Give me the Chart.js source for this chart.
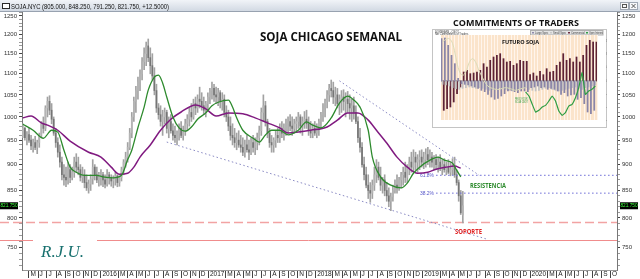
<!DOCTYPE html>
<html>
<head>
<meta charset="utf-8">
<script src="https://cdn.jsdelivr.net/npm/chart.js@4.4.1/dist/chart.umd.min.js"></script>
<style>
html,body{margin:0;padding:0;background:#fff;}
#wrap{position:relative;width:640px;height:279px;overflow:hidden;}
#main{position:absolute;left:0;top:0;}
#cot{position:absolute;left:432px;top:29px;}
</style>
</head>
<body>
<div id="wrap">
  <canvas id="main" width="640" height="279"></canvas>
  <canvas id="cot" width="175" height="99"></canvas>
</div>
<script>
// Weekly bars, week 0 = 10 Apr 2015
const OPEN = [
  960,975,955,962,950,938,945,935,945,960, 985,975,1020,1035,1015,995,965,945,925,905,
  880,875,870,890,875,885,905,895,890,875, 880,865,855,862,872,895,880,870,875,880,
  870,862,880,875,868,872,878,865,875,890, 905,915,935,965,1000,1035,1060,1080,1100,1130,
  1150,1170,1140,1120,1095,1060,1020,1005,990,1000, 1010,975,990,970,960,955,965,975,960,970,
  985,995,1010,1000,1030,1020,1040,1035,1025,1015, 1030,1045,1060,1065,1050,1045,1055,1035,1040,1010,
  1000,980,960,955,945,950,940,935,925,940, 930,925,945,935,945,955,970,1010,1025,990,
  965,945,940,950,960,955,975,965,975,985, 990,980,975,985,990,1000,980,990,995,985,
  970,965,975,965,980,990,1005,1020,1035,1050, 1065,1060,1045,1050,1030,1040,1045,1035,1040,1030,
  1020,1025,1010,990,955,935,900,880,860,850, 845,860,880,895,875,860,870,850,840,830,
  838,850,860,855,870,880,885,875,895,905, 895,915,905,910,915,905,910,920,910,915,
  905,910,900,905,895,900,890,895,885,890, 895,880,865,840,805
];
const HIGH = [
  985,978,968,975,960,952,958,950,965,990, 1000,1025,1045,1048,1030,1000,975,955,940,915,
  900,895,905,900,895,915,922,915,900,895, 890,880,870,880,910,900,895,885,890,885,
  880,890,885,880,878,885,880,878,895,910, 925,945,975,1010,1045,1070,1092,1110,1140,1165,
  1180,1188,1165,1150,1115,1075,1030,1025,1015,1020, 1015,1000,1005,985,980,970,985,990,980,995,
  1005,1020,1030,1040,1045,1050,1068,1055,1045,1035, 1055,1065,1080,1075,1068,1065,1060,1055,1050,1025,
  1015,1000,985,975,965,970,960,955,950,960, 950,955,960,955,965,980,1020,1050,1035,995,
  975,960,955,970,975,985,990,985,995,1000, 1005,1000,995,1000,1010,1005,1000,1012,1015,1000,
  990,985,990,985,995,1010,1030,1040,1060,1075, 1085,1080,1068,1065,1050,1060,1062,1055,1058,1050,
  1040,1045,1025,1000,975,945,915,895,880,865, 870,895,910,905,895,875,880,865,855,845,
  860,870,880,875,885,895,905,900,915,925, 930,925,920,928,930,925,932,935,930,925,
  918,920,915,920,910,912,905,910,905,912, 915,890,870,850,848.25
];
const LOW = [
  955,950,940,945,930,925,930,922,935,955, 965,970,1000,1005,985,960,935,915,895,870,
  860,857,862,865,870,875,885,880,868,865, 855,850,845,850,862,870,865,858,860,857,
  855,858,862,858,855,860,857,858,868,880, 895,905,930,955,990,1010,1040,1060,1085,1110,
  1120,1130,1100,1085,1050,1010,995,980,960,985, 965,955,965,950,945,940,950,955,950,960,
  970,980,990,995,1005,1010,1020,1015,1005,1000, 1015,1030,1040,1035,1030,1025,1020,1015,1000,990,
  970,950,940,935,930,935,925,918,915,925, 910,920,925,920,930,940,960,990,980,955,
  935,925,925,935,945,945,955,950,960,965, 970,960,965,970,975,965,960,975,975,960,
  955,955,960,955,960,975,990,1000,1020,1035, 1045,1030,1025,1020,1005,1010,1015,1000,1010,995,
  990,995,985,945,925,895,870,855,835,828, 835,850,865,870,850,845,840,830,820,813,
  830,845,845,850,855,860,865,865,880,885, 885,890,885,890,895,892,895,900,895,895,
  890,890,885,888,880,885,880,882,878,880, 875,860,830,806,791.25
];
const CLOSE = [
  975,955,962,950,938,945,935,945,960,985, 975,1020,1035,1015,995,965,945,925,905,880,
  875,870,890,875,885,905,895,890,875,880, 865,855,862,872,895,880,870,875,880,870,
  862,880,875,868,872,878,865,875,890,905, 915,935,965,1000,1035,1060,1080,1100,1130,1150,
  1170,1140,1120,1095,1060,1020,1005,990,1000,1010, 975,990,970,960,955,965,975,960,970,985,
  995,1010,1000,1030,1020,1040,1035,1025,1015,1030, 1045,1060,1065,1050,1045,1055,1035,1040,1010,1000,
  980,960,955,945,950,940,935,925,940,930, 925,945,935,945,955,970,1010,1025,990,965,
  945,940,950,960,955,975,965,975,985,990, 980,975,985,990,1000,980,990,995,985,970,
  965,975,965,980,990,1005,1020,1035,1050,1065, 1060,1045,1050,1030,1040,1045,1035,1040,1030,1020,
  1025,1010,990,955,935,900,880,860,850,845, 860,880,895,875,860,870,850,840,830,838,
  850,860,855,870,880,885,875,895,905,895, 915,905,910,915,905,910,920,910,915,905,
  910,900,905,895,900,890,895,885,890,895, 880,865,840,809,821.75
];

// Moving averages (week index, price)
const GREEN_WEEKS  = [0,5,10,14,17,20,23,26,30,36,39,44,48,51,53,56,59,61,64,66,68,70,73,76,79,82,85,89,92,95,100,102,104,107,112,115,118,121,125,129,134,138,141,145,150,154,158,161,164,168,170,174,179,184,187,190,193,198,202,205,209,211,213];
const GREEN_VALUES = [984,971,954,971,967,929,895,885,879,879,876,874,879,910,929,977,1022,1061,1092,1097,1078,1045,1000,976,969,978,995,1009,1025,1033,1038,1022,998,971,954,946,961,971,971,961,971,989,982,976,998,1031,1047,1038,1022,971,915,876,860,855,864,883,895,909,915,909,903,889,876];
const PURPLE_WEEKS  = [0,4,9,12,17,23,32,38,43,47,51,54,57,62,67,72,77,84,89,94,100,107,113,119,125,129,134,140,148,153,158,163,168,172,177,182,187,192,197,201,206,210,213];
const PURPLE_VALUES = [998,1002,987,982,971,948,925,915,895,881,883,895,915,940,971,995,1011,1027,1018,1002,1009,1007,998,987,976,965,967,971,978,993,1009,1009,993,971,944,915,895,883,885,891,895,897,893];

// Trend lines, retracements, supports
const TREND_UPPER_WEEKS = [154,222], TREND_UPPER_VALUES = [1083,879];
const TREND_LOWER_WEEKS = [70,226],  TREND_LOWER_VALUES = [946,763];
const FIB_WEEKS = [201,289];
const FIB_618 = 879, FIB_382 = 845;
const SUPPORT_DASHED = 792, SUPPORT_SOLID = 762;
const LAST_CLOSE = 821.75;
const TITLE = 'SOJA.NYC (805.000, 848.250, 791.250, 821.750, +12.5000)';

// Axes
const PRICE_TICKS = [750,800,850,900,950,1000,1050,1100,1150,1200,1250];
const MONTH_LETTERS = ['J','F','M','A','M','J','J','A','S','O','N','D'];
const YEARS = [2015,2016,2017,2018,2019,2020];
const Y_MIN = 713, Y_MAX = 1261;
const X_MIN = -0.4, X_MAX = 289;

// COT inset
const COT_DATES = ['04/03','04/10','04/17','04/24','05/01','05/08','05/15','05/22','05/29','06/05','06/12','06/19','06/26','07/03','07/10','07/17','07/24','07/31','08/07','08/14','08/21','08/28','09/04','09/11','09/18','09/25','10/02','10/09','10/16','10/23','10/30','11/06','11/13','11/20','11/27','12/04','12/11','12/18','12/25','01/01','01/08','01/15','01/22','01/29','02/05','02/12','02/19'];
const COT_COMMERCIAL = [-88,-83,-78,-63,-38,-18,27,32,22,24,27,32,52,42,62,72,77,82,67,57,59,47,52,62,59,59,19,24,15,29,19,37,27,29,47,57,82,62,67,57,72,57,77,107,122,117,117];
const COT_LARGE = [127,129,107,77,52,8,-8,-10,-12,-15,-18,-22,-28,-32,-40,-48,-55,-52,-45,-38,-30,-28,-32,-35,-30,-30,-32,-20,-18,-15,-20,-18,-25,-22,-25,-30,-40,-35,-45,-42,-40,-55,-50,-68,-93,-98,-88];
const COT_SMALL = [-10,-12,-15,-20,-23,-25,-22,-20,-18,-20,-22,-20,-22,-25,-28,-25,-22,-20,-22,-25,-28,-30,-28,-25,-22,-20,-25,-28,-30,-28,-25,-22,-20,-25,-28,-30,-28,-25,-22,-20,-18,-22,-25,-20,-18,-15,-12];
const COT_PALE = [117,125,127,112,70,30,17,28,55,67,55,30,10,-8,-18,-22,-25,-25,-22,-20,-22,-25,-28,-25,-22,-20,null,null,null,null,null,null,null,null,null,null,null,null,null,null,null,null,null,null,null,null,null];
const COT_GREEN = [null,null,null,null,null,null,null,null,null,null,null,null,null,null,null,null,null,null,null,null,null,null,null,null,null,-33,-45,-70,-93,-88,-78,-73,-60,-45,-60,-90,-103,-95,-75,-70,-50,-20,25,-40,-30,-25,-15];

// month ticks on the week axis (February is hidden behind the year label)
const START = Date.UTC(2015,3,10), WEEK_MS = 7*864e5;
const monthTicks = [];
YEARS.forEach(y => MONTH_LETTERS.forEach((m, k) => {
  if (k === 1) return;
  const v = (Date.UTC(y,k,1) - START) / WEEK_MS;
  if (v > X_MIN && v < X_MAX) monthTicks.push({value:v, label: k === 0 ? String(y) : m});
}));
const labelAt = v => { const t = monthTicks.find(t => Math.abs(t.value - v) < 1e-6); return t ? t.label : ''; };

const minorTicks = [];
for (let v = 720; v <= 1260; v += 10) minorTicks.push({value:v});

const wicks = OPEN.map((o,i) => ({x:i, y:[LOW[i], HIGH[i]]}));
const bodies = OPEN.map((o,i) => ({x:i, y:[Math.min(o,CLOSE[i]), Math.max(o,CLOSE[i])]}));
const bodyColors = OPEN.map((o,i) => CLOSE[i] >= o ? '#b4b4b4' : '#757575');
const pts = (w, v) => w.map((x,i) => ({x, y:v[i]}));

const dotted = (w, v, color) => ({type:'line', data:pts(w,v), borderColor:color, borderWidth:1,
  borderDash:[1.5,2.5], pointRadius:0, tension:0, order:0});

const yAxis = (pos, width) => ({
  type:'logarithmic', position:pos, min:Y_MIN, max:Y_MAX,
  afterBuildTicks: s => { s.ticks = minorTicks.map(t => ({value:t.value})); },
  afterFit: s => { s.width = width; },
  ticks:{autoSkip:false, padding:2, color:'#333', font:{size:6, family:'Liberation Sans'},
    callback: v => PRICE_TICKS.includes(v) ? String(v) : ''},
  grid:{drawOnChartArea:false, tickLength:3,
    tickColor: c => (c.tick && c.tick.value % 50 === 0) ? '#444' : '#9a9a9a'},
  border:{color:'#777'}
});

const decor = {
  id:'decor',
  beforeDraw(chart){
    const c = chart.ctx, W = chart.width; c.save();
    c.fillStyle = '#fff'; c.fillRect(0,0,W,chart.height);
    const g = c.createLinearGradient(0,0,0,11);
    g.addColorStop(0,'#f1f4f8'); g.addColorStop(1,'#d2d9e3');
    c.fillStyle = g; c.fillRect(0,0,W,11);
    c.strokeStyle = '#98a2b0'; c.lineWidth = 1;
    c.beginPath(); c.moveTo(0,11.5); c.lineTo(W,11.5); c.stroke();
    c.fillStyle = '#fff'; c.fillRect(2.5,3.5,7,5);
    c.strokeStyle = '#2a2a2a'; c.strokeRect(2.5,3.5,7,5);
    c.fillStyle = '#111'; c.font = '7px "Liberation Sans"'; c.textBaseline = 'alphabetic';
    c.fillText(TITLE, 11, 9, 158);
    [620,629].forEach((x,k) => {
      c.fillStyle = '#f7f8fa'; c.fillRect(x+0.5,2.5,8,7);
      c.strokeStyle = '#a0a8b4'; c.strokeRect(x+0.5,2.5,8,7);
      c.strokeStyle = '#555';
      if (k === 0) c.strokeRect(x+2.5,4.5,4,3);
      else { c.beginPath(); c.moveTo(x+2.5,4); c.lineTo(x+6.5,8); c.moveTo(x+6.5,4); c.lineTo(x+2.5,8); c.stroke(); }
    });
    c.restore();
  },
  beforeDatasetsDraw(chart){
    const c = chart.ctx, ys = chart.scales.y, R = chart.chartArea.right; c.save();
    let y = Math.round(ys.getPixelForValue(SUPPORT_DASHED)) + 0.5;
    c.strokeStyle = '#f2a3a3'; c.lineWidth = 1.6; c.setLineDash([9,4]);
    c.beginPath(); c.moveTo(0,y); c.lineTo(R,y); c.stroke();
    y = Math.round(ys.getPixelForValue(SUPPORT_SOLID)) + 0.5;
    c.setLineDash([]); c.strokeStyle = '#f08c8c'; c.lineWidth = 1;
    c.beginPath(); c.moveTo(0,y); c.lineTo(R,y); c.stroke();
    c.fillStyle = '#5555c8'; c.font = '5.5px "Liberation Sans"'; c.textBaseline = 'middle';
    c.fillText('61.8%', 420, ys.getPixelForValue(FIB_618), 14);
    c.fillText('38.2%', 420, ys.getPixelForValue(FIB_382), 14);
    c.restore();
  },
  afterDatasetsDraw(chart){
    const c = chart.ctx, ys = chart.scales.y; c.save();
    c.fillStyle = '#fff'; c.fillRect(33,236,64,27);
    c.fillStyle = '#17706e'; c.font = 'italic 17px "Liberation Serif"'; c.textBaseline = 'alphabetic';
    c.fillText('R.J.U.', 41, 257, 49);
    c.fillStyle = '#111'; c.font = 'bold 12.5px "Open Sans"';
    c.fillText('SOJA CHICAGO SEMANAL', 260, 40.5, 142);
    c.font = 'bold 9.5px "Open Sans"';
    c.fillText('COMMITMENTS OF TRADERS', 453, 26, 126);
    c.font = 'bold 6.5px "Open Sans"';
    c.fillStyle = '#2e8b2e'; c.fillText('RESISTENCIA', 470, 187.5, 36);
    c.fillStyle = '#e02424'; c.fillText('SOPORTE', 455, 233.5, 27);
    const yc = ys.getPixelForValue(LAST_CLOSE);
    c.font = '5.5px "Liberation Sans"'; c.textBaseline = 'middle'; c.textAlign = 'center';
    [[0,18],[620,18]].forEach(([x,w]) => {
      c.fillStyle = '#000'; c.fillRect(x, yc-3.5, w, 7);
      c.fillStyle = '#3cff3c'; c.fillText('821.750', x + w/2, yc, w-1);
    });
    c.restore();
  }
};

new Chart(document.getElementById('main'), {
  type:'bar',
  data:{datasets:[
    {type:'line', data:pts(GREEN_WEEKS, GREEN_VALUES), borderColor:'#2d8a2d', borderWidth:1.3,
      pointRadius:0, cubicInterpolationMode:'monotone', order:0},
    {type:'line', data:pts(PURPLE_WEEKS, PURPLE_VALUES), borderColor:'#801a80', borderWidth:1.5,
      pointRadius:0, cubicInterpolationMode:'monotone', order:0},
    dotted(TREND_UPPER_WEEKS, TREND_UPPER_VALUES, '#8a8ac4'),
    dotted(TREND_LOWER_WEEKS, TREND_LOWER_VALUES, '#8a8ac4'),
    dotted(FIB_WEEKS, [FIB_618, FIB_618], '#6b6bd6'),
    dotted(FIB_WEEKS, [FIB_382, FIB_382], '#6b6bd6'),
    {data:bodies, backgroundColor:bodyColors, barThickness:1, grouped:false, order:1},
    {data:wicks, backgroundColor:'#a2a2a2', barThickness:1, grouped:false, order:2}
  ]},
  options:{
    responsive:false, animation:false, devicePixelRatio:1,
    layout:{padding:{top:12, left:0, right:0, bottom:0}},
    plugins:{legend:{display:false}, tooltip:{enabled:false}},
    scales:{
      x:{type:'linear', min:X_MIN, max:X_MAX, offset:false,
        afterBuildTicks: s => { s.ticks = monthTicks.map(t => ({value:t.value})); },
        afterFit: s => { s.height = 9; },
        ticks:{autoSkip:false, maxRotation:0, minRotation:0, align:'start', padding:-8, labelOffset:1.5,
          color:'#222', font:{size:6.5, family:'Liberation Sans'}, callback: v => labelAt(v)},
        grid:{drawOnChartArea:false, offset:false, tickLength:8, tickColor:'#444'},
        border:{color:'#999'}},
      y: yAxis('left', 22),
      y2: yAxis('right', 23)
    }
  },
  plugins:[decor]
});

// inset: commitments of traders
const cotDecor = {
  id:'cotDecor',
  beforeDraw(chart){
    const c = chart.ctx; c.save();
    c.fillStyle = '#fff'; c.fillRect(0,0,chart.width,chart.height);
    c.strokeStyle = '#c4c4c4'; c.strokeRect(0.5,0.5,chart.width-1,chart.height-1);
    c.fillStyle = '#333'; c.font = '2.6px "Liberation Sans"'; c.textBaseline = 'alphabetic';
    c.fillText('SOYBEANS - CBOT', 3, 3.5);
    c.fillText('Net Commitments of Traders', 3, 6);
    c.fillStyle = '#e4e4e4'; c.fillRect(98,1.5,73,4.5);
    c.strokeStyle = '#b0b0b0'; c.strokeRect(98.5,1.5,72.5,4.5);
    ['Large Spec','Small Spec','Commercial','Open Interest'].forEach((t,k) => {
      const x = 100 + k*18;
      c.fillStyle = ['#8f8aab','#c9c9c9','#6d2b3d','#2f9e44'][k]; c.fillRect(x,3,2,1.5);
      c.fillStyle = '#444'; c.fillText(t, x+3, 4.6, 14);
    });
    c.restore();
  },
  beforeDatasetsDraw(chart){
    const c = chart.ctx, a = chart.chartArea, xs = chart.scales.x; c.save();
    c.fillStyle = '#fbe4cb'; c.fillRect(a.left, a.top, a.right-a.left, a.bottom-a.top);
    c.strokeStyle = '#fff5ec'; c.lineWidth = 1;
    COT_DATES.forEach((d,i) => {
      const x = Math.round(xs.getPixelForValue(i) + (xs.getPixelForValue(1) - xs.getPixelForValue(0)) / 2) + 0.5;
      c.beginPath(); c.moveTo(x, a.top); c.lineTo(x, a.bottom); c.stroke();
    });
    const y0 = chart.scales.y.getPixelForValue(0);
    c.strokeStyle = '#8a8a8a'; c.beginPath(); c.moveTo(a.left,y0); c.lineTo(a.right,y0); c.stroke();
    c.restore();
  },
  afterDatasetsDraw(chart){
    const c = chart.ctx; c.save();
    c.fillStyle = '#111'; c.font = 'bold 5.5px "Open Sans"'; c.textBaseline = 'alphabetic';
    c.fillText('FUTURO SOJA', 70, 15, 40);
    c.fillStyle = '#2f9e44'; c.font = '2.6px "Liberation Sans"';
    c.fillText('PRECIO FUTURO', 83, 71, 13);
    c.fillText('SOJA CBOT', 83, 74, 13);
    c.restore();
  }
};

const cotAxis = (pos, width) => ({
  position:pos, min:-117, max:138,
  afterFit: s => { s.width = width; },
  ticks:{stepSize:20, padding:1, color:'#777', font:{size:3, family:'Liberation Sans'}},
  grid:{display:false}, border:{display:false}
});

new Chart(document.getElementById('cot'), {
  type:'bar',
  data:{labels:COT_DATES, datasets:[
    {type:'line', data:COT_PALE, borderColor:'#dcdcb8', borderWidth:1, pointRadius:0, tension:0.4, order:0},
    {type:'line', data:COT_GREEN, borderColor:'#2f9e44', borderWidth:1.2, pointRadius:0, tension:0.1, order:0},
    {data:COT_LARGE, backgroundColor:'#8a85a8', order:1},
    {data:COT_SMALL, backgroundColor:'#c2c2c2', order:1},
    {data:COT_COMMERCIAL, backgroundColor:'#5e2234', order:1}
  ]},
  options:{
    responsive:false, animation:false, devicePixelRatio:1,
    layout:{padding:{top:6}},
    plugins:{legend:{display:false}, tooltip:{enabled:false}},
    datasets:{bar:{categoryPercentage:1, barPercentage:1}},
    scales:{
      x:{afterFit: s => { s.height = 8; },
        ticks:{autoSkip:false, maxRotation:60, minRotation:60, padding:0, color:'#777', font:{size:3, family:'Liberation Sans'}},
        grid:{display:false}, border:{display:false}},
      y: cotAxis('left', 9),
      y2: cotAxis('right', 10)
    }
  },
  plugins:[cotDecor]
});
</script>
</body>
</html>
